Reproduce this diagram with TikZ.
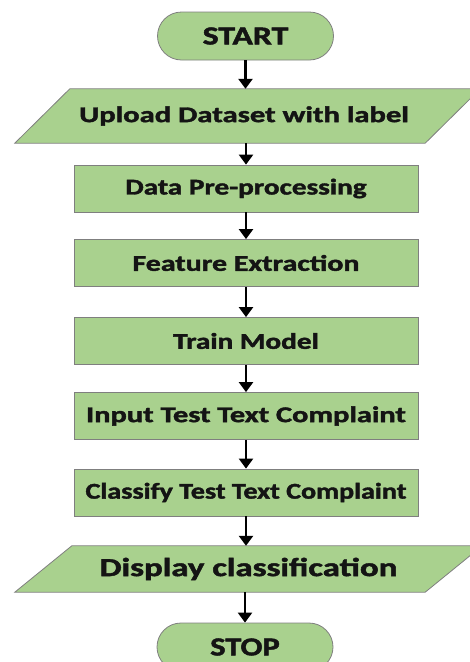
\documentclass[tikz,border=0pt]{standalone}
\usepackage{graphicx}
\usepackage{fontspec}
\setmainfont{Carlito}[BoldFeatures={FakeBold=1.6}]
\usetikzlibrary{shapes.misc,arrows.meta,calc}

\definecolor{boxgreen}{HTML}{A9D18E}
\definecolor{boxedge}{HTML}{7F7F7F}
\newcommand\widetext[2][1.3]{\scalebox{#1}[1]{#2}}

\tikzset{
  flowtext/.style={font=\bfseries\fontsize{22.5}{25}\selectfont, text=black!92},
  terminal/.style={flowtext, rounded rectangle, draw=boxedge, line width=0.8pt,
    fill=boxgreen, minimum width=176pt, minimum height=48pt, inner sep=0pt,
    font=\bfseries\fontsize{26}{29}\selectfont},
  process/.style={flowtext, rectangle, draw=boxedge, line width=0.8pt,
    fill=boxgreen, minimum width=344pt, minimum height=47pt, inner sep=0pt},
  iobody/.style={flowtext, rectangle, minimum width=410pt, inner sep=0pt},
  ioshape/.style={draw=boxedge, line width=0.8pt, fill=boxgreen},
  flowarrow/.style={line width=2.4pt, -{Triangle[width=14pt,length=10pt]}, black}
}

\begin{document}
\begin{tikzpicture}[x=1pt,y=-1pt]
  \useasboundingbox (0,0) rectangle (470,662);

  % terminals and process steps
  \node[terminal] (start) at (245.5,36) {\widetext{START}};

  % input parallelogram: body node first, outline drawn behind the text
  \node[iobody, minimum height=54pt] (upload) at (247.5,116) {};
  \filldraw[ioshape] ($(upload.south west)+(-27.5,0)$) -- ($(upload.north west)+(27.5,0)$)
    -- ($(upload.north east)+(27.5,0)$) -- ($(upload.south east)+(-27.5,0)$) -- cycle;
  \node[flowtext] (uploadlabel) at (244,116) {\widetext[1.36]{Upload Dataset with label}};

  \node[process] (prep)     at (246,188.5) {\widetext{Data Pre-processing}};
  \node[process] (feat)     at (246,263)   {\widetext[1.33]{Feature Extraction}};
  \node[process] (train)    at (246,341)   {\widetext{Train Model}};
  \node[process] (input)    at (246,416)   {\widetext[1.35]{Input Test Text Complaint}};
  \node[process] (classify) at (246,492.5) {\widetext[1.25]{Classify Test Text Complaint}};

  % output parallelogram
  \node[iobody, minimum height=46pt] (display) at (248.5,569) {};
  \filldraw[ioshape] ($(display.south west)+(-28.5,0)$) -- ($(display.north west)+(28.5,0)$)
    -- ($(display.north east)+(28.5,0)$) -- ($(display.south east)+(-28.5,0)$) -- cycle;
  \node[flowtext, font=\bfseries\fontsize{26}{29}\selectfont] (displaylabel) at (display.center)
    {\widetext[1.34]{Display classification}};

  \node[terminal] (stop) at (245,647) {\widetext[1.25]{STOP}};

  % connectors
  \draw[flowarrow] (start.south) -- (upload.north -| start.south);
  \draw[flowarrow] (upload.south -| prep.north) -- (prep.north);
  \draw[flowarrow] (prep) -- (feat);
  \draw[flowarrow] (feat) -- (train);
  \draw[flowarrow] (train) -- (input);
  \draw[flowarrow] (input) -- (classify);
  \draw[flowarrow] (classify.south) -- (display.north -| classify.south);
  \draw[flowarrow] (display.south -| stop.north) -- (stop.north);
\end{tikzpicture}
\end{document}
